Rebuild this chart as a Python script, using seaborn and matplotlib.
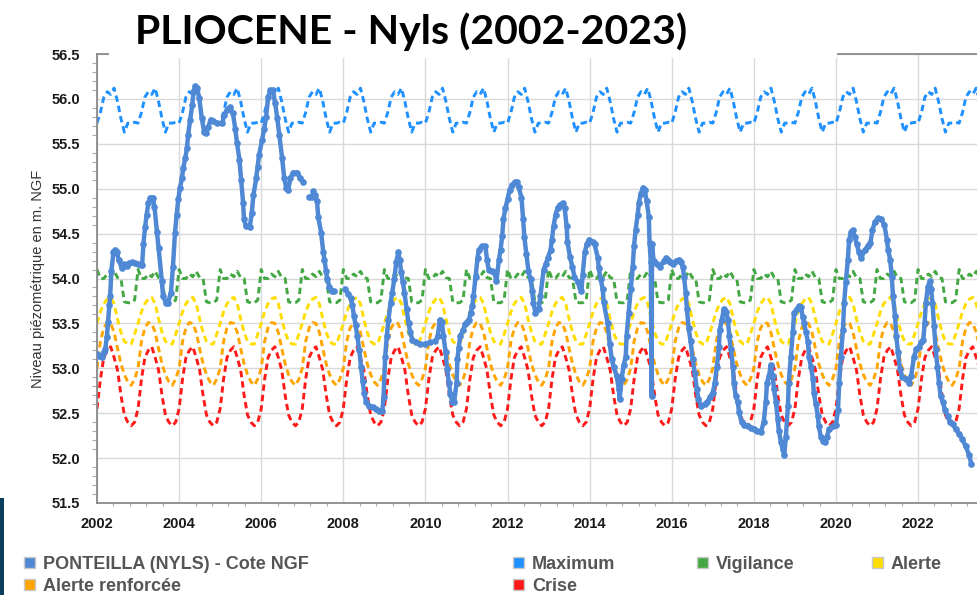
import numpy as np
import pandas as pd
import matplotlib
matplotlib.use("Agg")
import matplotlib.pyplot as plt
from matplotlib.patches import Patch, Rectangle
from matplotlib.ticker import MultipleLocator, FormatStrFormatter
import seaborn as sns

# ---------------- data ----------------
# PONTEILLA (NYLS) - Cote NGF : decimal year / level (m NGF); None = gap in record
ponteilla_t = [
    2002.00, 2002.05, 2002.11, 2002.16, 2002.20, 2002.24, 2002.27, 2002.30, 2002.32, 2002.35,
    2002.40, 2002.44, 2002.48, 2002.53, 2002.60, 2002.66, 2002.72, 2002.78, 2002.85, 2002.92,
    2003.00, 2003.07, 2003.10, 2003.13, 2003.17, 2003.21, 2003.25, 2003.30, 2003.36, 2003.40,
    2003.46, 2003.50, 2003.58, 2003.61, 2003.68, 2003.73, 2003.80, 2003.85, 2003.90, 2003.94,
    2003.98, 2004.02, 2004.07, 2004.10, 2004.15, 2004.19, 2004.22, 2004.27, 2004.32, 2004.35,
    2004.39, 2004.44, 2004.49, 2004.55, 2004.61, 2004.66, 2004.71, 2004.77, 2004.83, 2004.93,
    2005.05, 2005.10, 2005.17, 2005.24, 2005.31, 2005.37, 2005.41, 2005.47, 2005.51, 2005.56,
    2005.58, 2005.63, 2005.72, 2005.77, 2005.81, 2005.88, 2005.91, 2005.95, 2006.02, 2006.07,
    2006.12, 2006.17, 2006.22, 2006.28, 2006.34, 2006.39, 2006.44, 2006.51, 2006.56, 2006.61,
    2006.66, 2006.71, 2006.78, 2006.88, 2006.95, 2007.02, 2007.10,
    2007.17, 2007.24, 2007.27, 2007.32, 2007.36, 2007.39, 2007.46, 2007.51, 2007.54, 2007.58,
    2007.61, 2007.66, 2007.73, 2007.78, 2007.90,
    2008.05, 2008.12, 2008.18, 2008.22, 2008.26, 2008.30, 2008.34, 2008.39, 2008.43, 2008.47,
    2008.51, 2008.56, 2008.63, 2008.72, 2008.80, 2008.88, 2008.95, 2008.98, 2009.02, 2009.06,
    2009.10, 2009.15, 2009.19, 2009.24, 2009.29, 2009.34, 2009.37, 2009.41, 2009.45, 2009.49,
    2009.54, 2009.59, 2009.63, 2009.68, 2009.76, 2009.88, 2010.00, 2010.12, 2010.24, 2010.30,
    2010.35, 2010.40, 2010.44, 2010.49, 2010.53, 2010.57, 2010.61, 2010.65, 2010.70, 2010.76,
    2010.78, 2010.81, 2010.85, 2010.92, 2010.97, 2011.02, 2011.06, 2011.10, 2011.14, 2011.17,
    2011.22, 2011.27, 2011.30, 2011.37, 2011.46, 2011.50, 2011.54, 2011.63, 2011.68, 2011.73,
    2011.79, 2011.83, 2011.87, 2011.90, 2011.95, 2012.00, 2012.05, 2012.12, 2012.17, 2012.24,
    2012.27, 2012.34, 2012.38, 2012.41, 2012.46, 2012.51, 2012.56, 2012.60, 2012.63, 2012.68,
    2012.76, 2012.80, 2012.88, 2012.93, 2012.98, 2013.05, 2013.08, 2013.12, 2013.17, 2013.22,
    2013.27, 2013.34, 2013.39, 2013.44, 2013.46, 2013.52, 2013.58, 2013.63, 2013.71, 2013.76,
    2013.80, 2013.83, 2013.88, 2013.93, 2013.98, 2014.07, 2014.12, 2014.20, 2014.22, 2014.27,
    2014.32, 2014.34, 2014.44, 2014.49, 2014.54, 2014.59, 2014.66, 2014.71, 2014.73, 2014.78,
    2014.83, 2014.88, 2014.90, 2014.95, 2015.00, 2015.05, 2015.08, 2015.12, 2015.17, 2015.20,
    2015.24, 2015.30, 2015.34, 2015.39, 2015.44, 2015.46, 2015.49, 2015.51, 2015.52, 2015.56,
    2015.63, 2015.71, 2015.80, 2015.86, 2015.90, 2015.95, 2016.02, 2016.10, 2016.17, 2016.22,
    2016.27, 2016.30, 2016.34, 2016.37, 2016.41, 2016.46, 2016.51, 2016.56, 2016.61, 2016.65,
    2016.71, 2016.80, 2016.87, 2016.93, 2017.00, 2017.05, 2017.10, 2017.15, 2017.17, 2017.22,
    2017.27, 2017.32, 2017.37, 2017.40, 2017.44, 2017.49, 2017.51, 2017.56, 2017.61, 2017.64,
    2017.70, 2017.76, 2017.85, 2017.93, 2018.00, 2018.08, 2018.17, 2018.24, 2018.29, 2018.32,
    2018.37, 2018.41, 2018.46, 2018.49, 2018.54, 2018.58, 2018.61, 2018.66, 2018.70, 2018.74,
    2018.78, 2018.83, 2018.85, 2018.90, 2018.95, 2018.98, 2019.05, 2019.10, 2019.15, 2019.19,
    2019.22, 2019.27, 2019.32, 2019.34, 2019.39, 2019.44, 2019.46, 2019.51, 2019.56, 2019.58,
    2019.63, 2019.68, 2019.73, 2019.78, 2019.83, 2019.93, 2020.00, 2020.05, 2020.08, 2020.12,
    2020.17, 2020.20, 2020.24, 2020.29, 2020.32, 2020.37, 2020.41, 2020.46, 2020.51, 2020.56,
    2020.61, 2020.71, 2020.77, 2020.84, 2020.89, 2020.95, 2021.02, 2021.10, 2021.18, 2021.24,
    2021.27, 2021.32, 2021.36, 2021.39, 2021.44, 2021.47, 2021.51, 2021.56, 2021.62, 2021.71,
    2021.78, 2021.83, 2021.90, 2021.96, 2022.02, 2022.08, 2022.13, 2022.16, 2022.19, 2022.24,
    2022.29, 2022.32, 2022.35, 2022.39, 2022.43, 2022.47, 2022.51, 2022.55, 2022.61, 2022.65,
    2022.72, 2022.78, 2022.84, 2022.92, 2023.00, 2023.08, 2023.16, 2023.24, 2023.30,
]
ponteilla_v = [
    53.16, 53.14, 53.13, 53.18, 53.21, 53.35, 53.52, 53.70, 53.80, 54.08,
    54.29, 54.32, 54.29, 54.21, 54.12, 54.16, 54.14, 54.17, 54.18, 54.17,
    54.16, 54.15, 54.15, 54.38, 54.57, 54.71, 54.84, 54.90, 54.90, 54.80,
    54.52, 54.34, 53.97, 53.80, 53.73, 53.73, 53.84, 54.13, 54.51, 54.71,
    54.88, 55.01, 55.12, 55.23, 55.34, 55.45, 55.60, 55.77, 55.93, 56.08,
    56.14, 56.12, 56.01, 55.79, 55.63, 55.62, 55.69, 55.77, 55.75, 55.73,
    55.73, 55.82, 55.88, 55.91, 55.84, 55.66, 55.51, 55.32, 55.10, 54.84,
    54.66, 54.58, 54.57, 54.73, 54.93, 55.12, 55.24, 55.38, 55.54, 55.66,
    55.80, 56.02, 56.10, 56.10, 55.95, 55.79, 55.60, 55.34, 55.12, 55.01,
    54.99, 55.12, 55.18, 55.18, 55.12, 55.08, None,
    54.91, 54.91, 54.97, 54.93, 54.86, 54.68, 54.51, 54.30, 54.21, 54.08,
    53.99, 53.91, 53.86, 53.86, None,
    53.88, 53.83, 53.78, 53.70, 53.58, 53.48, 53.36, 53.20, 53.02, 52.86,
    52.72, 52.62, 52.58, 52.57, 52.55, 52.53, 52.52, 52.68, 53.13, 53.36,
    53.54, 53.73, 53.84, 53.99, 54.18, 54.29, 54.21, 54.07, 53.96, 53.84,
    53.66, 53.50, 53.40, 53.32, 53.29, 53.27, 53.27, 53.29, 53.30, 53.36,
    53.54, 53.52, 53.36, 53.18, 52.99, 52.84, 52.71, 52.63, 52.63, 52.84,
    53.10, 53.23, 53.36, 53.43, 53.49, 53.52, 53.54, 53.62, 53.69, 53.80,
    54.02, 54.23, 54.32, 54.36, 54.36, 54.21, 54.10, 54.08, 54.07, 53.97,
    54.21, 54.32, 54.47, 54.66, 54.79, 54.88, 54.99, 55.04, 55.07, 55.07,
    55.02, 54.90, 54.66, 54.46, 54.27, 54.08, 53.99, 53.86, 53.73, 53.62,
    53.66, 53.80, 54.10, 54.16, 54.23, 54.32, 54.43, 54.58, 54.71, 54.79,
    54.82, 54.84, 54.79, 54.58, 54.41, 54.24, 54.13, 54.02, 53.96, 53.90,
    53.86, 54.04, 54.29, 54.38, 54.43, 54.41, 54.38, 54.23, 54.12, 53.99,
    53.88, 53.74, 53.50, 53.27, 53.10, 53.01, 52.91, 52.77, 52.66, 52.88,
    53.04, 53.13, 53.36, 53.62, 53.88, 54.13, 54.36, 54.54, 54.71, 54.84,
    54.94, 55.01, 54.99, 54.86, 54.69, 54.40, 54.18, 52.69, 54.38, 54.19,
    54.16, 54.13, 54.19, 54.23, 54.21, 54.18, 54.16, 54.19, 54.21, 54.18,
    54.13, 54.02, 53.84, 53.66, 53.45, 53.30, 53.10, 52.95, 52.77, 52.66,
    52.58, 52.60, 52.62, 52.68, 52.73, 52.84, 53.02, 53.24, 53.43, 53.54,
    53.66, 53.63, 53.54, 53.36, 53.21, 53.02, 52.84, 52.69, 52.62, 52.51,
    52.40, 52.37, 52.36, 52.34, 52.32, 52.30, 52.29, 52.40, 52.62, 52.84,
    52.91, 53.04, 52.91, 52.77, 52.62, 52.43, 52.30, 52.18, 52.10, 52.03,
    52.24, 52.58, 52.84, 53.13, 53.40, 53.62, 53.66, 53.69, 53.68, 53.57,
    53.51, 53.40, 53.29, 53.13, 53.02, 52.88, 52.73, 52.60, 52.47, 52.36,
    52.24, 52.19, 52.18, 52.24, 52.32, 52.36, 52.37, 52.54, 52.84, 53.13,
    53.43, 53.73, 53.96, 54.21, 54.43, 54.52, 54.54, 54.46, 54.38, 54.29,
    54.23, 54.32, 54.36, 54.40, 54.54, 54.63, 54.67, 54.66, 54.60, 54.43,
    54.32, 54.21, 54.02, 53.80, 53.58, 53.36, 53.18, 52.99, 52.90, 52.88,
    52.84, 52.91, 53.13, 53.21, 53.24, 53.29, 53.32, 53.51, 53.73, 53.91,
    53.97, 53.88, 53.73, 53.47, 53.21, 53.02, 52.84, 52.69, 52.62, 52.54,
    52.47, 52.40, 52.38, 52.32, 52.27, 52.21, 52.13, 52.04, 51.93,
]

# Seasonal thresholds: one value per month (Jan..Dec), same every year
years = list(range(2002, 2024))
maximum_m   = [55.73, 55.85, 56.02, 56.08, 56.05, 56.12, 55.97, 55.78, 55.63, 55.73, 55.73, 55.74]
vigilance_m = [54.10, 54.00, 54.00, 54.05, 54.02, 54.08, 54.01, 54.00, 53.74, 53.73, 53.73, 53.76]
alerte_m    = [53.50, 53.63, 53.72, 53.77, 53.79, 53.72, 53.55, 53.40, 53.30, 53.27, 53.27, 53.38]
renforce_m  = [53.00, 53.30, 53.45, 53.51, 53.50, 53.40, 53.22, 53.05, 52.93, 52.85, 52.81, 52.88]
crise_m     = [52.55, 52.88, 53.12, 53.20, 53.24, 53.12, 52.98, 52.70, 52.48, 52.40, 52.36, 52.40]

series_names = ["PONTEILLA (NYLS) - Cote NGF", "Maximum", "Vigilance", "Alerte",
                "Alerte renforcée", "Crise"]
series_colors = ["#4f88d4", "#1e90ff", "#43a843", "#ffdd00", "#ffa500", "#ff1a1a"]

# ---------------- frames ----------------
main = pd.DataFrame({"t": ponteilla_t, "v": pd.to_numeric(pd.Series(ponteilla_v), errors="coerce")})
main["seg"] = main["v"].isna().cumsum()
main = main.dropna()

month_pos = [y + m / 12 for y in years for m in range(12)]
thr = {
    "Maximum": maximum_m,
    "Vigilance": vigilance_m,
    "Alerte": alerte_m,
    "Alerte renforcée": renforce_m,
    "Crise": crise_m,
}
thr_frames = {k: pd.DataFrame({"t": month_pos, "v": v * len(years)}) for k, v in thr.items()}

# ---------------- figure ----------------
sns.set_theme(style="white")
plt.rcParams["font.family"] = ["Liberation Sans", "DejaVu Sans"]

W, H = 978, 595
fig = plt.figure(figsize=(W / 100, H / 100), dpi=100)
ax = fig.add_axes([97 / W, (H - 503) / H, (W - 97) / W, (503 - 54) / H])

color_map = dict(zip(series_names, series_colors))
dash = (0, (2.2, 1.4))
for name in ["Crise", "Alerte renforcée", "Alerte", "Vigilance", "Maximum"]:
    sns.lineplot(data=thr_frames[name], x="t", y="v", ax=ax, color=color_map[name],
                 linewidth=2.1, linestyle=dash, estimator=None, legend=False)

sns.lineplot(data=main, x="t", y="v", units="seg", estimator=None, ax=ax,
             color=color_map[series_names[0]], linewidth=3.2, marker="o",
             markersize=4.8, markeredgewidth=0, legend=False, sort=False, zorder=5)

ax.set_xlim(2002, 2023.46)
ax.set_ylim(51.5, 56.5)
ax.xaxis.set_major_locator(MultipleLocator(2))
ax.xaxis.set_minor_locator(MultipleLocator(0.4))
ax.yaxis.set_major_locator(MultipleLocator(0.5))
ax.yaxis.set_minor_locator(MultipleLocator(0.1))
ax.xaxis.set_major_formatter(FormatStrFormatter("%d"))
ax.yaxis.set_major_formatter(FormatStrFormatter("%.1f"))
ax.grid(True, which="major", color="#d9d9d9", linewidth=1.0)
ax.set_axisbelow(True)
ax.tick_params(axis="both", which="major", direction="out", colors="#888888",
               labelcolor="#1a1a1a", labelsize=10.5)
ax.tick_params(axis="y", which="major", length=7, width=1, pad=5)
ax.tick_params(axis="y", which="minor", length=3.5, width=0.8, colors="#aaaaaa", left=True)
ax.tick_params(axis="x", which="major", length=5, width=1, pad=5)
ax.tick_params(axis="x", which="minor", length=2.5, width=0.8, colors="#aaaaaa", bottom=True)
for lab in ax.get_xticklabels() + ax.get_yticklabels():
    lab.set_fontweight("bold")
ax.set_xlabel("")
ax.set_ylabel("Niveau piézométrique en m. NGF", fontsize=10.5, color="#333333", labelpad=5)
for side in ["left", "bottom", "top"]:
    ax.spines[side].set_visible(True)
    ax.spines[side].set_color("#8a8a8a")
    ax.spines[side].set_linewidth(1.3)
ax.spines["right"].set_visible(False)

# white box behind the title, hiding part of the top frame
fig.add_artist(Rectangle((109 / W, (H - 58) / H), (837 - 109) / W, 10 / H,
                         transform=fig.transFigure, facecolor="white",
                         edgecolor="none", zorder=3))
fig.text(411 / W, 1 - 32 / H, "PLIOCENE - Nyls (2002-2023)", ha="center", va="center",
         fontsize=29.5, fontweight="bold", family=["Lato", "DejaVu Sans"], color="black",
         zorder=4)

# dark bar at lower left
fig.add_artist(Rectangle((0, 0), 4 / W, (H - 498) / H, transform=fig.transFigure,
                         facecolor="#0b3d5c", edgecolor="none", zorder=3))

# legend in four columns
def handle(name):
    return Patch(facecolor=color_map[name], edgecolor="#c8c8c8", linewidth=1.0, label=name)

columns = [
    (24, ["PONTEILLA (NYLS) - Cote NGF", "Alerte renforcée"]),
    (513, ["Maximum", "Crise"]),
    (697, ["Vigilance"]),
    (872, ["Alerte"]),
]
for x0, names in columns:
    leg = fig.legend(handles=[handle(n) for n in names], loc="upper left",
                     bbox_to_anchor=(x0 / W, 1 - 556 / H), frameon=False,
                     fontsize=13, handlelength=0.6, handleheight=0.6,
                     handletextpad=0.45, labelspacing=0.28, borderpad=0,
                     borderaxespad=0)
    for t in leg.get_texts():
        t.set_fontweight("bold")
        t.set_color("#555555")

fig.savefig("out.png", dpi=100)
